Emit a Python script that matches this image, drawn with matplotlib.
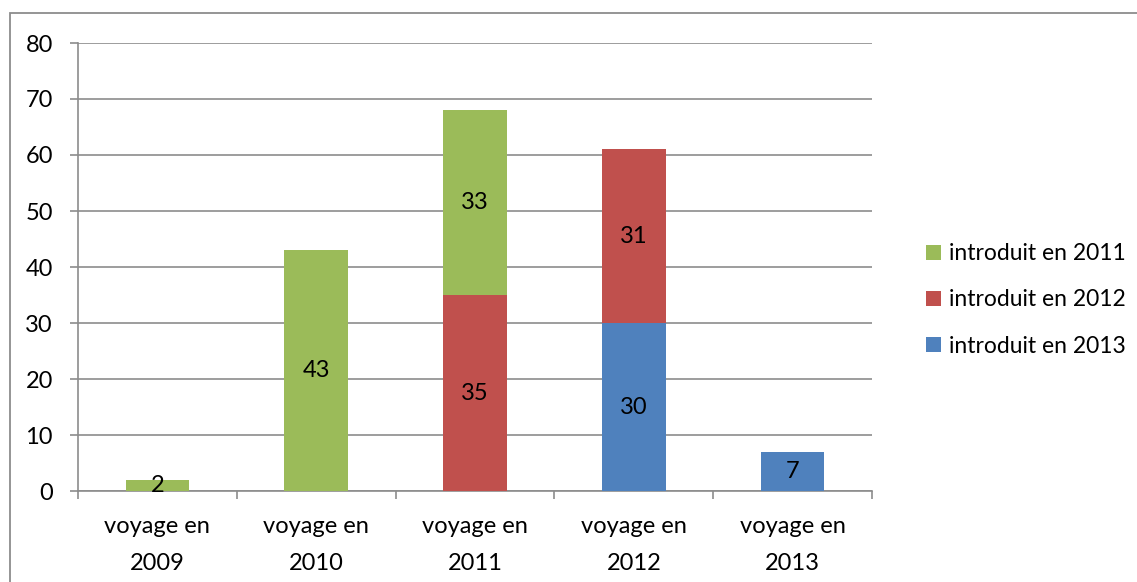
import numpy as np
import matplotlib.pyplot as plt
from matplotlib.patches import Rectangle

plt.rcParams['font.family'] = ['Lato', 'DejaVu Sans']

categories = ["voyage en\n2009", "voyage en\n2010", "voyage en\n2011", "voyage en\n2012", "voyage en\n2013"]
series_names = ["introduit en 2013", "introduit en 2012", "introduit en 2011"]
vals_2013 = [0, 0, 0, 30, 7]
vals_2012 = [0, 0, 35, 31, 0]
vals_2011 = [2, 43, 33, 0, 0]
colors = ['#4F81BD', '#C0504D', '#9BBB59']
yticks = [0, 10, 20, 30, 40, 50, 60, 70, 80]

fs = 17

fig = plt.figure(figsize=(11.37, 5.82), dpi=100)
W, H = 1137, 582
ax = fig.add_axes([78 / W, 1 - 491 / H, (872 - 78) / W, (491 - 43) / H])

# bordure du graphique (style Excel)
fig.patches.append(Rectangle((10 / W, -0.1), 1.2, 1 - 13 / H + 0.1, transform=fig.transFigure,
                             fill=False, edgecolor='#8c8c8c', linewidth=1.3))

x = np.arange(len(categories))
bottom = np.zeros(len(categories))
bars = []
for name, vals, col in zip(series_names, [vals_2013, vals_2012, vals_2011], colors):
    b = ax.bar(x, vals, 0.4, bottom=bottom, color=col, label=name, zorder=3)
    for xi, v, bt in zip(x, vals, bottom):
        if v > 0:
            ax.text(xi, bt + v / 2, str(v), ha='center', va='center', fontsize=fs, zorder=4)
    bottom += np.array(vals)
    bars.append(b)

ax.set_xlim(-0.5, len(categories) - 0.5)
ax.set_ylim(0, 80)
ax.set_yticks(yticks)
ax.yaxis.grid(True, color='#8c8c8c', linewidth=1.2, zorder=0)
ax.set_axisbelow(True)
for s in ['top', 'right']:
    ax.spines[s].set_visible(False)
for s in ['left', 'bottom']:
    ax.spines[s].set_color('#8c8c8c')
    ax.spines[s].set_linewidth(1.2)
ax.tick_params(axis='y', length=6, color='#8c8c8c', width=1.2, labelsize=fs, pad=12)
ax.set_xticks(x)
ax.set_xticklabels(categories, fontsize=fs, linespacing=1.95)
ax.set_xticks(np.arange(len(categories) + 1) - 0.5, minor=True)
ax.tick_params(axis='x', which='major', length=0, pad=18)
ax.tick_params(axis='x', which='minor', length=6, color='#8c8c8c', width=1.2)

handles = [bars[2], bars[1], bars[0]]
labels = [series_names[2], series_names[1], series_names[0]]
fig.legend(handles, labels, loc='center left', bbox_to_anchor=(905 / W, 1 - 300 / H),
           frameon=False, fontsize=16.5, handlelength=0.65, handleheight=0.65,
           handletextpad=0.35, labelspacing=1.1)

fig.savefig('out.png', dpi=100)
